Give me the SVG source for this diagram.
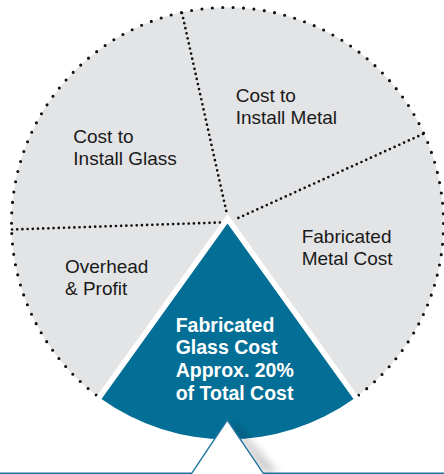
<svg xmlns="http://www.w3.org/2000/svg" width="444" height="474" viewBox="0 0 444 474">
  <style>
    .lbl { font-family: "Liberation Sans", Arial, sans-serif; font-size: 19px; fill: #1a1a1a; }
    .hl { font-family: "Liberation Sans", Arial, sans-serif; font-size: 19.5px; font-weight: bold; fill: #ffffff; }
    .rim { fill: none; stroke: #111; stroke-width: 3.1; stroke-linecap: round; stroke-dasharray: 0 10.44; }
    .div { fill: none; stroke: #111; stroke-width: 2.7; stroke-linecap: round; stroke-dasharray: 0 5.2; }
  </style>
  <defs>
    <filter id="blur" x="-100%" y="-50%" width="300%" height="200%">
      <feGaussianBlur stdDeviation="4"/>
    </filter>
    <clipPath id="clipBottom">
      <rect x="0" y="0" width="444" height="473"/>
    </clipPath>
  </defs>
  <rect width="444" height="474" fill="#ffffff"/>

  <g id="pie-base">
    <circle cx="227.5" cy="223.5" r="216" fill="#e3e4e6"/>
    <circle cx="227.5" cy="223.5" r="216" class="rim"/>
  </g>

  <g id="dividers">
    <line class="div" x1="182" y1="13" x2="226.7" y2="213"/>
    <line class="div" x1="12" y1="229.5" x2="220" y2="222.5"/>
    <line class="div" x1="423" y1="134" x2="235" y2="219.5"/>
  </g>

  <g id="install-glass">
    <text class="lbl" x="73.3" y="142.7">Cost to</text>
    <text class="lbl" x="73.3" y="165">Install Glass</text>
  </g>
  <g id="install-metal">
    <text class="lbl" x="235.7" y="101.7">Cost to</text>
    <text class="lbl" x="235.7" y="124.3">Install Metal</text>
  </g>
  <g id="fabricated-metal">
    <text class="lbl" x="301.7" y="243.3">Fabricated</text>
    <text class="lbl" x="301.7" y="265">Metal Cost</text>
  </g>
  <g id="overhead-profit">
    <text class="lbl" x="65" y="273.3">Overhead</text>
    <text class="lbl" x="65" y="295">&amp; Profit</text>
  </g>

  <g id="fabricated-glass">
    <path d="M227.5,223.5 L101.5,398.9 A216,216 0 0 0 353.5,398.9 Z" fill="#ffffff" stroke="#ffffff" stroke-width="11" stroke-linejoin="miter" stroke-miterlimit="10"/>
    <path d="M227.5,223.5 L101.5,398.9 A216,216 0 0 0 353.5,398.9 Z" fill="#046f96"/>
    <text class="hl" x="175.7" y="331.7">Fabricated</text>
    <text class="hl" x="175.7" y="354">Glass Cost</text>
    <text class="hl" x="175.7" y="377.3">Approx. 20%</text>
    <text class="hl" x="175.7" y="400">of Total Cost</text>
  </g>

  <g id="callout">
    <g clip-path="url(#clipBottom)">
      <polygon points="229,424 264,473 278,473 235,424" fill="#000000" opacity="0.22" filter="url(#blur)"/>
    </g>
    <polygon points="227.3,420 191.7,473.3 263.3,473.3" fill="#ffffff"/>
    <polyline points="0,473.3 191.7,473.3 227.3,420 263.3,473.3 444,473.3" fill="none" stroke="#1f74a0" stroke-width="1.4" stroke-linejoin="miter"/>
  </g>
</svg>
